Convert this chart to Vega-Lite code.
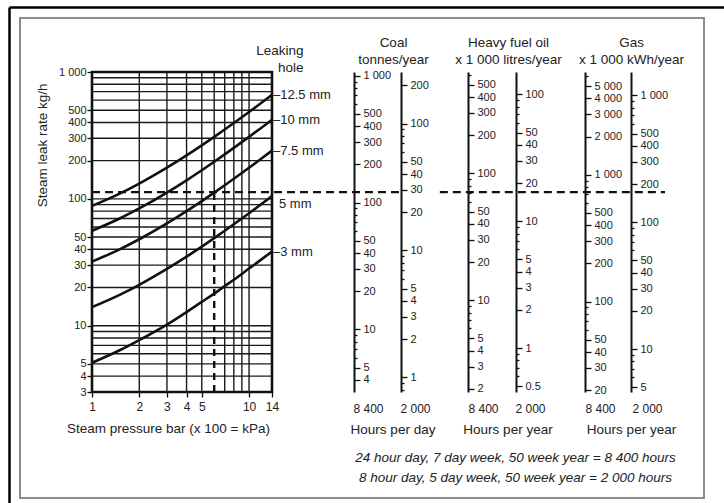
{
  "$schema": "https://vega.github.io/schema/vega-lite/v6.json",
  "width": 684,
  "height": 480,
  "autosize": {"type": "none"},
  "padding": {"left": 20, "top": 18, "right": 20, "bottom": 5},
  "background": "white",
  "config": {
    "view": {"stroke": "#8c8c8c", "strokeWidth": 2},
    "font": "Liberation Sans",
    "axis": {"domainColor": "#111", "tickColor": "#111", "labelColor": "#222", "titleColor": "#222", "labelFontSize": 11, "titleFontSize": 13.5, "titleFontWeight": "normal", "grid": false, "labelOverlap": false, "labelFlush": false, "labelBound": false, "tickWidth": 1.3, "domainWidth": 2}
  },
  "resolve": {"scale": {"x": "independent", "y": "independent"}, "axis": {"x": "independent", "y": "independent"}},
  "layer": [
    {
      "encoding": {
        "x": {"type": "quantitative", "scale": {"type": "log", "domain": [1, 14], "range": [72, 252], "nice": false},
          "axis": {"orient": "bottom", "offset": -106, "values": [1, 2, 3, 4, 5, 10, 14], "labelExpr": "format(datum.value, ',')", "domain": false, "tickSize": 5, "labelPadding": 4, "labelFontSize": 12,
            "title": "Steam pressure bar (x 100 = kPa)", "titleX": 148, "titleY": 40, "titleAlign": "center", "titleBaseline": "alphabetic"}},
        "y": {"type": "quantitative", "scale": {"type": "log", "domain": [3, 1000], "range": [374, 54], "nice": false},
          "axis": {"orient": "left", "offset": -72, "values": [3, 4, 5, 10, 20, 30, 40, 50, 100, 200, 300, 400, 500, 1000], "labelExpr": "replace(format(datum.value, ','), ',', ' ')", "domain": false, "tickSize": 5, "labelPadding": 1, "labelFontSize": 11,
            "title": "Steam leak rate kg/h", "titleAngle": 270, "titleX": -50, "titleY": 65, "titleAlign": "right", "titleBaseline": "middle"}}
      },
      "layer": [
        {
          "data": {"values": [{"v": 4}, {"v": 5}, {"v": 6}, {"v": 7}, {"v": 8}, {"v": 9}, {"v": 10}, {"v": 20}, {"v": 30}, {"v": 40}, {"v": 50}, {"v": 60}, {"v": 70}, {"v": 80}, {"v": 90}, {"v": 100}, {"v": 200}, {"v": 300}, {"v": 400}, {"v": 500}, {"v": 600}, {"v": 700}, {"v": 800}, {"v": 900}]},
          "mark": {"type": "rule", "color": "#1a1a1a", "strokeWidth": 1.4},
          "encoding": {
            "y": {"field": "v"},
            "x": {"datum": 1},
            "x2": {"datum": 14}
          }
        },
        {
          "data": {"values": [{"p": 2, "lo": 3, "hi": 1000}, {"p": 3, "lo": 3, "hi": 1000}, {"p": 4, "lo": 3, "hi": 1000}, {"p": 5, "lo": 3, "hi": 1000}, {"p": 6, "lo": 113, "hi": 1000}, {"p": 7, "lo": 3, "hi": 1000}, {"p": 8, "lo": 3, "hi": 1000}, {"p": 9, "lo": 3, "hi": 1000}, {"p": 10, "lo": 3, "hi": 1000}]},
          "mark": {"type": "rule", "color": "#1a1a1a", "strokeWidth": 1.4},
          "encoding": {
            "x": {"field": "p"},
            "y": {"field": "lo"},
            "y2": {"field": "hi"}
          }
        },
        {
          "data": {"values": [
            {"hole": "12.5 mm", "p": 1, "rate": 88}, {"hole": "12.5 mm", "p": 1.5, "rate": 110}, {"hole": "12.5 mm", "p": 2, "rate": 132}, {"hole": "12.5 mm", "p": 3, "rate": 176}, {"hole": "12.5 mm", "p": 4, "rate": 220}, {"hole": "12.5 mm", "p": 5, "rate": 264}, {"hole": "12.5 mm", "p": 6, "rate": 308}, {"hole": "12.5 mm", "p": 7, "rate": 352}, {"hole": "12.5 mm", "p": 8, "rate": 396}, {"hole": "12.5 mm", "p": 10, "rate": 484}, {"hole": "12.5 mm", "p": 12, "rate": 572}, {"hole": "12.5 mm", "p": 14, "rate": 660},
            {"hole": "10 mm", "p": 1, "rate": 56}, {"hole": "10 mm", "p": 1.5, "rate": 70}, {"hole": "10 mm", "p": 2, "rate": 84}, {"hole": "10 mm", "p": 3, "rate": 112}, {"hole": "10 mm", "p": 4, "rate": 140}, {"hole": "10 mm", "p": 5, "rate": 168}, {"hole": "10 mm", "p": 6, "rate": 196}, {"hole": "10 mm", "p": 7, "rate": 224}, {"hole": "10 mm", "p": 8, "rate": 252}, {"hole": "10 mm", "p": 10, "rate": 308}, {"hole": "10 mm", "p": 12, "rate": 364}, {"hole": "10 mm", "p": 14, "rate": 420},
            {"hole": "7.5 mm", "p": 1, "rate": 32}, {"hole": "7.5 mm", "p": 1.5, "rate": 40}, {"hole": "7.5 mm", "p": 2, "rate": 48}, {"hole": "7.5 mm", "p": 3, "rate": 64}, {"hole": "7.5 mm", "p": 4, "rate": 80}, {"hole": "7.5 mm", "p": 5, "rate": 96}, {"hole": "7.5 mm", "p": 6, "rate": 112}, {"hole": "7.5 mm", "p": 7, "rate": 128}, {"hole": "7.5 mm", "p": 8, "rate": 144}, {"hole": "7.5 mm", "p": 10, "rate": 176}, {"hole": "7.5 mm", "p": 12, "rate": 208}, {"hole": "7.5 mm", "p": 14, "rate": 240},
            {"hole": "5 mm", "p": 1, "rate": 14}, {"hole": "5 mm", "p": 1.5, "rate": 17.5}, {"hole": "5 mm", "p": 2, "rate": 21}, {"hole": "5 mm", "p": 3, "rate": 28}, {"hole": "5 mm", "p": 4, "rate": 35}, {"hole": "5 mm", "p": 5, "rate": 42}, {"hole": "5 mm", "p": 6, "rate": 49}, {"hole": "5 mm", "p": 7, "rate": 56}, {"hole": "5 mm", "p": 8, "rate": 63}, {"hole": "5 mm", "p": 10, "rate": 77}, {"hole": "5 mm", "p": 12, "rate": 91}, {"hole": "5 mm", "p": 14, "rate": 105},
            {"hole": "3 mm", "p": 1, "rate": 5.1}, {"hole": "3 mm", "p": 1.5, "rate": 6.4}, {"hole": "3 mm", "p": 2, "rate": 7.7}, {"hole": "3 mm", "p": 3, "rate": 10.2}, {"hole": "3 mm", "p": 4, "rate": 12.8}, {"hole": "3 mm", "p": 5, "rate": 15.4}, {"hole": "3 mm", "p": 6, "rate": 17.9}, {"hole": "3 mm", "p": 7, "rate": 20.5}, {"hole": "3 mm", "p": 8, "rate": 23}, {"hole": "3 mm", "p": 10, "rate": 28.2}, {"hole": "3 mm", "p": 12, "rate": 33.3}, {"hole": "3 mm", "p": 14, "rate": 38.4}
          ]},
          "mark": {"type": "line", "color": "#111", "strokeWidth": 2.6, "interpolate": "monotone"},
          "encoding": {
            "x": {"field": "p"},
            "y": {"field": "rate"},
            "detail": {"field": "hole"}
          }
        },
        {
          "data": {"values": [{"a": 1, "b": 14, "lo": 3, "hi": 1000}]},
          "mark": {"type": "rect", "fill": "transparent", "stroke": "#111", "strokeWidth": 2.6},
          "encoding": {
            "x": {"field": "a"},
            "x2": {"field": "b"},
            "y": {"field": "lo"},
            "y2": {"field": "hi"}
          }
        },
        {
          "data": {"values": [{"a": 1, "b": 95.6, "r": 113}, {"a": 164, "b": 4450, "r": 113}]},
          "mark": {"type": "rule", "color": "#111", "strokeWidth": 2.4, "strokeDash": [8, 5]},
          "encoding": {
            "x": {"field": "a"},
            "x2": {"field": "b"},
            "y": {"field": "r"}
          }
        },
        {
          "data": {"values": [{"p": 6, "lo": 3, "hi": 113}]},
          "mark": {"type": "rule", "color": "#111", "strokeWidth": 2.4, "strokeDash": [7, 5]},
          "encoding": {
            "x": {"field": "p"},
            "y": {"field": "lo"},
            "y2": {"field": "hi"}
          }
        },
        {
          "data": {"values": [{"p": 14, "rate": 660, "label": "–12.5 mm"}, {"p": 14, "rate": 420, "label": "–10 mm"}, {"p": 14, "rate": 240, "label": "–7.5 mm"}, {"p": 14, "rate": 38.4, "label": "–3 mm"}]},
          "mark": {"type": "text", "align": "left", "baseline": "middle", "dx": 1, "fontSize": 13, "color": "#222"},
          "encoding": {
            "x": {"field": "p"},
            "y": {"field": "rate"},
            "text": {"field": "label"}
          }
        },
        {
          "data": {"values": [{"p": 14, "rate": 91, "label": "5 mm"}]},
          "mark": {"type": "text", "align": "left", "baseline": "middle", "dx": 7, "fontSize": 13, "color": "#222"},
          "encoding": {
            "x": {"field": "p"},
            "y": {"field": "rate"},
            "text": {"field": "label"}
          }
        }
      ]
    },
    {
      "data": {"values": [{"f": 0}, {"f": 1}]},
      "mark": {"type": "point", "opacity": 0},
      "encoding": {
        "x": {"field": "f", "type": "quantitative", "scale": {"domain": [0, 1], "range": [-11, 720], "nice": false, "zero": false},
          "axis": {"orient": "top", "offset": 11, "domainColor": "#000", "domainWidth": 2.5, "ticks": false, "labels": false, "title": null}},
        "y": {"field": "f", "type": "quantitative", "scale": {"domain": [0, 1], "range": [500, -11], "nice": false, "zero": false},
          "axis": {"orient": "left", "offset": 11, "domainColor": "#000", "domainWidth": 2.5, "ticks": false, "labels": false, "title": null}}
      }
    },
    {
      "data": {"values": [{"v": 100}]},
      "mark": {"type": "point", "opacity": 0},
      "encoding": {"y": {"field": "v", "type": "quantitative", "scale": {"type": "log", "domain": [3.2145, 1071.5], "range": [374, 54], "nice": false},
        "axis": {"orient": "right", "offset": -350, "values": [1000, 900, 800, 700, 600, 500, 400, 300, 200, 100, 90, 80, 70, 60, 50, 40, 30, 20, 10, 9, 8, 7, 6, 5, 4],
          "labelExpr": "indexof([1000,500,400,300,200,100,50,40,30,20,10,5,4], datum.value) >= 0 ? replace(format(datum.value, ','), ',', ' ') : ''",
          "tickSize": {"condition": {"test": "indexof([1000,500,400,300,200,100,50,40,30,20,10,5,4], datum.value) >= 0", "value": 6}, "value": 3},
          "labelPadding": 3,
          "title": ["Coal", "tonnes/year"], "titleAngle": 0, "titleX": 39, "titleY": 28, "titleAlign": "center", "titleBaseline": "alphabetic", "titleLineHeight": 17}}}
    },
    {
      "data": {"values": [{"v": 10}]},
      "mark": {"type": "point", "opacity": 0},
      "encoding": {"y": {"field": "v", "type": "quantitative", "scale": {"type": "log", "domain": [0.7659, 255.3], "range": [374, 54], "nice": false},
        "axis": {"orient": "right", "offset": -303, "values": [200, 100, 90, 80, 70, 60, 50, 40, 30, 20, 10, 9, 8, 7, 6, 5, 4, 3, 2, 1, 0.9, 0.8],
          "labelExpr": "indexof([200,100,50,40,30,20,10,5,4,3,2,1], datum.value) >= 0 ? replace(format(datum.value, ','), ',', ' ') : ''",
          "tickSize": {"condition": {"test": "indexof([200,100,50,40,30,20,10,5,4,3,2,1], datum.value) >= 0", "value": 6}, "value": 3},
          "labelPadding": 3,
          "title": "2 000", "titleFontSize": 12, "titleAngle": 0, "titleX": -1, "titleY": 394, "titleAlign": "left", "titleBaseline": "alphabetic"}}}
    },
    {
      "data": {"values": [{"v": 100}]},
      "mark": {"type": "point", "opacity": 0},
      "encoding": {"y": {"field": "v", "type": "quantitative", "scale": {"type": "log", "domain": [1.893, 631], "range": [374, 54], "nice": false},
        "axis": {"orient": "right", "offset": -236, "values": [600, 500, 400, 300, 200, 100, 90, 80, 70, 60, 50, 40, 30, 20, 10, 9, 8, 7, 6, 5, 4, 3, 2],
          "labelExpr": "indexof([500,400,300,200,100,50,40,30,20,10,5,4,3,2], datum.value) >= 0 ? replace(format(datum.value, ','), ',', ' ') : ''",
          "tickSize": {"condition": {"test": "indexof([500,400,300,200,100,50,40,30,20,10,5,4,3,2], datum.value) >= 0", "value": 6}, "value": 3},
          "labelPadding": 3,
          "title": ["Heavy fuel oil", "x 1 000 litres/year"], "titleAngle": 0, "titleX": 40, "titleY": 28, "titleAlign": "center", "titleBaseline": "alphabetic", "titleLineHeight": 17}}}
    },
    {
      "data": {"values": [{"v": 10}]},
      "mark": {"type": "point", "opacity": 0},
      "encoding": {"y": {"field": "v", "type": "quantitative", "scale": {"type": "log", "domain": [0.4509, 150.3], "range": [374, 54], "nice": false},
        "axis": {"orient": "right", "offset": -188, "values": [100, 90, 80, 70, 60, 50, 40, 30, 20, 10, 9, 8, 7, 6, 5, 4, 3, 2, 1, 0.9, 0.8, 0.7, 0.6, 0.5],
          "labelExpr": "indexof([100,50,40,30,20,10,5,4,3,2,1,0.5], datum.value) >= 0 ? replace(format(datum.value, ','), ',', ' ') : ''",
          "tickSize": {"condition": {"test": "indexof([100,50,40,30,20,10,5,4,3,2,1,0.5], datum.value) >= 0", "value": 6}, "value": 3},
          "labelPadding": 3,
          "title": "2 000", "titleFontSize": 12, "titleAngle": 0, "titleX": -1, "titleY": 394, "titleAlign": "left", "titleBaseline": "alphabetic"}}}
    },
    {
      "data": {"values": [{"v": 1000}]},
      "mark": {"type": "point", "opacity": 0},
      "encoding": {"y": {"field": "v", "type": "quantitative", "scale": {"type": "log", "domain": [19.37, 6457], "range": [374, 54], "nice": false},
        "axis": {"orient": "right", "offset": -119, "values": [6000, 5000, 4000, 3000, 2000, 1000, 900, 800, 700, 600, 500, 400, 300, 200, 100, 90, 80, 70, 60, 50, 40, 30, 20],
          "labelExpr": "indexof([5000,4000,3000,2000,1000,500,400,300,200,100,50,40,30,20], datum.value) >= 0 ? replace(format(datum.value, ','), ',', ' ') : ''",
          "tickSize": {"condition": {"test": "indexof([5000,4000,3000,2000,1000,500,400,300,200,100,50,40,30,20], datum.value) >= 0", "value": 6}, "value": 3},
          "labelPadding": 3,
          "title": ["Gas", "x 1 000 kWh/year"], "titleAngle": 0, "titleX": 46, "titleY": 28, "titleAlign": "center", "titleBaseline": "alphabetic", "titleLineHeight": 17}}}
    },
    {
      "data": {"values": [{"v": 100}]},
      "mark": {"type": "point", "opacity": 0},
      "encoding": {"y": {"field": "v", "type": "quantitative", "scale": {"type": "log", "domain": [4.593, 1531], "range": [374, 54], "nice": false},
        "axis": {"orient": "right", "offset": -73, "values": [1000, 900, 800, 700, 600, 500, 400, 300, 200, 100, 90, 80, 70, 60, 50, 40, 30, 20, 10, 9, 8, 7, 6, 5],
          "labelExpr": "indexof([1000,500,400,300,200,100,50,40,30,20,10,5], datum.value) >= 0 ? replace(format(datum.value, ','), ',', ' ') : ''",
          "tickSize": {"condition": {"test": "indexof([1000,500,400,300,200,100,50,40,30,20,10,5], datum.value) >= 0", "value": 6}, "value": 3},
          "labelPadding": 3,
          "title": "2 000", "titleFontSize": 12, "titleAngle": 0, "titleX": 1, "titleY": 394, "titleAlign": "left", "titleBaseline": "alphabetic"}}}
    },
    {
      "data": {"values": [{"v": 1}]},
      "mark": {"type": "point", "opacity": 0},
      "encoding": {"y": {"field": "v", "type": "quantitative", "scale": {"domain": [0, 1], "range": [374, 54]},
        "axis": {"orient": "right", "offset": -684, "domain": false, "ticks": false, "labels": false, "title": "8 400", "titleFontSize": 12, "titleAngle": 0, "titleX": 333, "titleY": 394, "titleAlign": "left", "titleBaseline": "alphabetic"}}}
    },
    {
      "data": {"values": [{"v": 1}]},
      "mark": {"type": "point", "opacity": 0},
      "encoding": {"y": {"field": "v", "type": "quantitative", "scale": {"domain": [0, 1], "range": [374, 54]},
        "axis": {"orient": "right", "offset": -684, "domain": false, "ticks": false, "labels": false, "title": "8 400", "titleFontSize": 12, "titleAngle": 0, "titleX": 448, "titleY": 394, "titleAlign": "left", "titleBaseline": "alphabetic"}}}
    },
    {
      "data": {"values": [{"v": 1}]},
      "mark": {"type": "point", "opacity": 0},
      "encoding": {"y": {"field": "v", "type": "quantitative", "scale": {"domain": [0, 1], "range": [374, 54]},
        "axis": {"orient": "right", "offset": -684, "domain": false, "ticks": false, "labels": false, "title": "8 400", "titleFontSize": 12, "titleAngle": 0, "titleX": 565, "titleY": 394, "titleAlign": "left", "titleBaseline": "alphabetic"}}}
    },
    {
      "data": {"values": [{"v": 1}]},
      "mark": {"type": "point", "opacity": 0},
      "encoding": {"y": {"field": "v", "type": "quantitative", "scale": {"domain": [0, 1], "range": [374, 54]},
        "axis": {"orient": "right", "offset": -684, "domain": false, "ticks": false, "labels": false, "title": "Hours per day", "titleAngle": 0, "titleX": 372.5, "titleY": 415, "titleAlign": "center", "titleBaseline": "alphabetic"}}}
    },
    {
      "data": {"values": [{"v": 1}]},
      "mark": {"type": "point", "opacity": 0},
      "encoding": {"y": {"field": "v", "type": "quantitative", "scale": {"domain": [0, 1], "range": [374, 54]},
        "axis": {"orient": "right", "offset": -684, "domain": false, "ticks": false, "labels": false, "title": "Hours per year", "titleAngle": 0, "titleX": 487.5, "titleY": 415, "titleAlign": "center", "titleBaseline": "alphabetic"}}}
    },
    {
      "data": {"values": [{"v": 1}]},
      "mark": {"type": "point", "opacity": 0},
      "encoding": {"y": {"field": "v", "type": "quantitative", "scale": {"domain": [0, 1], "range": [374, 54]},
        "axis": {"orient": "right", "offset": -684, "domain": false, "ticks": false, "labels": false, "title": "Hours per year", "titleAngle": 0, "titleX": 611, "titleY": 415, "titleAlign": "center", "titleBaseline": "alphabetic"}}}
    },
    {
      "data": {"values": [{"v": 1}]},
      "mark": {"type": "point", "opacity": 0},
      "encoding": {"y": {"field": "v", "type": "quantitative", "scale": {"domain": [0, 1], "range": [374, 54]},
        "axis": {"orient": "right", "offset": -684, "domain": false, "ticks": false, "labels": false, "title": ["Leaking", "hole"], "titleAngle": 0, "titleX": 283, "titleY": 36, "titleAlign": "right", "titleBaseline": "alphabetic", "titleLineHeight": 17}}}
    },
    {
      "data": {"values": [{"v": 1}]},
      "mark": {"type": "point", "opacity": 0},
      "encoding": {"y": {"field": "v", "type": "quantitative", "scale": {"domain": [0, 1], "range": [374, 54]},
        "axis": {"orient": "right", "offset": -684, "domain": false, "ticks": false, "labels": false, "title": ["24 hour day, 7 day week, 50 week year = 8 400 hours", "8 hour day, 5 day week, 50 week year = 2 000 hours"], "titleAngle": 0, "titleX": 495, "titleY": 443.5, "titleAlign": "center", "titleBaseline": "alphabetic", "titleLineHeight": 19.5, "titleFontStyle": "italic"}}}
    }
  ]
}
